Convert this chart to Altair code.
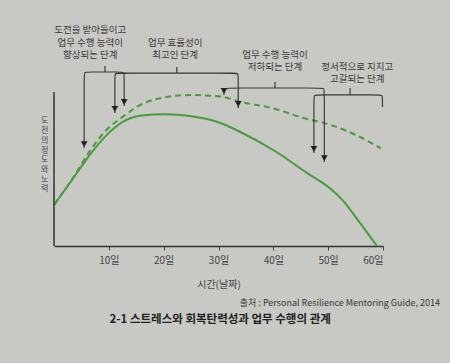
import altair as alt
import pandas as pd

# ---- data ----
solid_days = [0, 3.5, 6.6, 9.6, 12.6, 15.7, 20.3, 24.8, 30.5, 33.9, 40.5, 46.1, 50.5, 52.7, 55.8, 58.9]
solid_vals = [26.6, 44.0, 59.5, 72.0, 80.7, 84.6, 85.5, 84.4, 79.7, 74.2, 61.2, 47.5, 37.0, 29.5, 15.0, 0]
dash_days = [0, 3.5, 6.6, 9.6, 12.6, 15.7, 18.7, 24.8, 30.5, 33.9, 39.9, 45.7, 50.5, 55.1, 59.6]
dash_vals = [26.6, 44.5, 62, 75.5, 84, 91.5, 95.5, 98, 97, 93.7, 89.4, 82.9, 78.6, 72, 63.4]

tick_days = [10, 20, 30, 40, 50, 60]
tick_labels = ["10일", "20일", "30일", "40일", "50일", "60일"]

x_title = "시간(날짜)"
y_title = "도전의 정도와 노력"

# stage annotations
stage_texts = [
    "도전을 받아들이고\n업무 수행 능력이\n향상되는 단계",
    "업무 효율성이\n최고인 단계",
    "업무 수행 능력이\n저하되는 단계",
    "정서적으로 지치고\n고갈되는 단계",
]
stage_text_x = [6.6, 22.1, 40.3, 55.3]
stage_text_y = [143.5, 135.1, 127.3, 119.5]
bracket_left = [5.5, 11.1, 31.0, 47.4]
bracket_right = [12.8, 33.6, 49.3, 59.9]
bracket_bar = [113.0, 112.3, 102.6, 98.1]
bracket_tick_x = [9.3, 22.4, 40.3, 54.0]
bracket_tick_top = [116.9, 116.2, 106.5, 102.6]
tip_left = [63.6, 86.4, 98.1, 60.4]
tip_right = [90.9, 89.6, 54.5, 90.3]
arrow_right = [True, True, True, False]

# y-axis title placement (data units)
y_title_day = -1.7
y_title_top = 83.5

source_text = "출처 : Personal Resilience Mentoring Guide, 2014"
caption_text = "2-1 스트레스와 회복탄력성과 업무 수행의 관계"

# corner rounding (data units, ~4px)
RX, RY = 0.75, 2.7

# ---- tables ----
curve_df = pd.concat([
    pd.DataFrame({"day": solid_days, "v": solid_vals, "s": "solid"}),
    pd.DataFrame({"day": dash_days, "v": dash_vals, "s": "dash"}),
])

path_rows, arrow_rows, tick_rows, text_rows = [], [], [], []
for i in range(4):
    xl, xr, yb = bracket_left[i], bracket_right[i], bracket_bar[i]
    pts = [(xl, tip_left[i]), (xl, tip_left[i]), (xl, yb - RY), (xl, yb), (xl + RX, yb),
           (xr - RX, yb), (xr, yb), (xr, yb - RY), (xr, tip_right[i]), (xr, tip_right[i])]
    for k, (dx, dy) in enumerate(pts):
        path_rows.append({"b": i, "o": k, "day": dx, "v": dy})
    arrow_rows.append({"day": xl, "v": tip_left[i]})
    if arrow_right[i]:
        arrow_rows.append({"day": xr, "v": tip_right[i]})
    tick_rows.append({"day": bracket_tick_x[i], "v": yb, "v2": bracket_tick_top[i]})
    text_rows.append({"day": stage_text_x[i], "v": stage_text_y[i], "t": stage_texts[i]})

path_df = pd.DataFrame(path_rows)
arrow_df = pd.DataFrame(arrow_rows)
tick_df = pd.DataFrame(tick_rows)
text_df = pd.DataFrame(text_rows)

FONT = "Noto Sans CJK KR"
GREEN = "#4a9a3e"
INK = "#3a3a3a"

label_expr = "{" + ",".join(f"{d}:'{l}'" for d, l in zip(tick_days, tick_labels)) + "}[datum.value]"

xs = alt.Scale(domain=[0, 60], nice=False, zero=False)
ys = alt.Scale(domain=[0, 150], nice=False, zero=False)

x_enc = alt.X("day:Q", scale=xs, axis=alt.Axis(
    values=tick_days, labelExpr=label_expr, grid=False,
    domainColor="#333333", domainWidth=1.5, tickColor="#444444", tickSize=4,
    labelFont=FONT, labelFontSize=10, labelColor="#444444", labelPadding=5,
    title=x_title, titleFont=FONT, titleFontSize=10, titleFontWeight="normal",
    titleColor="#444444", titlePadding=14))
y_enc = alt.Y("v:Q", scale=ys, axis=None)

base = alt.Chart(curve_df)

solid = base.transform_filter("datum.s == 'solid'").mark_line(
    color=GREEN, strokeWidth=2, interpolate="monotone").encode(x=x_enc, y=y_enc)
dash = base.transform_filter("datum.s == 'dash'").mark_line(
    color=GREEN, strokeWidth=2, strokeDash=[6, 4], interpolate="monotone").encode(
    x=alt.X("day:Q", scale=xs), y=alt.Y("v:Q", scale=ys))

yaxis_line = alt.Chart(pd.DataFrame({"day": [0], "v": [0], "v2": [100]})).mark_rule(
    color="#333333", strokeWidth=1.5).encode(
    x=alt.X("day:Q", scale=xs), y=alt.Y("v:Q", scale=ys), y2="v2:Q")

ytitle = alt.Chart(pd.DataFrame({"day": [y_title_day], "v": [y_title_top],
                                 "t": ["\n".join(y_title)]})).mark_text(
    font=FONT, fontSize=8, color="#444444", lineBreak="\n", lineHeight=9.7,
    baseline="top", align="center").encode(
    x=alt.X("day:Q", scale=xs), y=alt.Y("v:Q", scale=ys), text="t:N")

brackets = alt.Chart(path_df).mark_line(color=INK, strokeWidth=1.2, interpolate="basis").encode(
    x=alt.X("day:Q", scale=xs), y=alt.Y("v:Q", scale=ys), detail="b:N", order="o:Q")

ticks = alt.Chart(tick_df).mark_rule(color=INK, strokeWidth=1.2).encode(
    x=alt.X("day:Q", scale=xs), y=alt.Y("v:Q", scale=ys), y2="v2:Q")

arrows = alt.Chart(arrow_df).mark_point(
    shape="triangle-down", filled=True, color="#222222", size=45, opacity=1, yOffset=-4).encode(
    x=alt.X("day:Q", scale=xs), y=alt.Y("v:Q", scale=ys))

labels = alt.Chart(text_df).mark_text(
    font=FONT, fontSize=9.5, color="#3a3a3a", lineBreak="\n", lineHeight=12.5,
    baseline="top", align="center").encode(
    x=alt.X("day:Q", scale=xs), y=alt.Y("v:Q", scale=ys), text="t:N")

source = alt.Chart(pd.DataFrame({"day": [70.4], "v": [-37.0], "t": [source_text]})).mark_text(
    font=FONT, fontSize=9, color="#3a3a3a", align="right", baseline="middle").encode(
    x=alt.X("day:Q", scale=xs), y=alt.Y("v:Q", scale=ys), text="t:N")

caption = alt.Chart(pd.DataFrame({"day": [30.3], "v": [-48.0], "t": [caption_text]})).mark_text(
    font=FONT, fontSize=11.5, fontWeight="bold", color="#222222", align="center", baseline="middle").encode(
    x=alt.X("day:Q", scale=xs), y=alt.Y("v:Q", scale=ys), text="t:N")

chart = alt.layer(solid, dash, yaxis_line, ytitle, brackets, ticks, arrows, labels, source, caption).properties(
    width=329, height=231,
    autosize=alt.AutoSizeParams(type="none"),
    padding={"left": 54, "top": 15, "right": 67, "bottom": 117},
    background="#c8c8c5",
).configure_view(stroke=None)

chart.save("out.html", embed_options={"renderer": "svg", "actions": False})
